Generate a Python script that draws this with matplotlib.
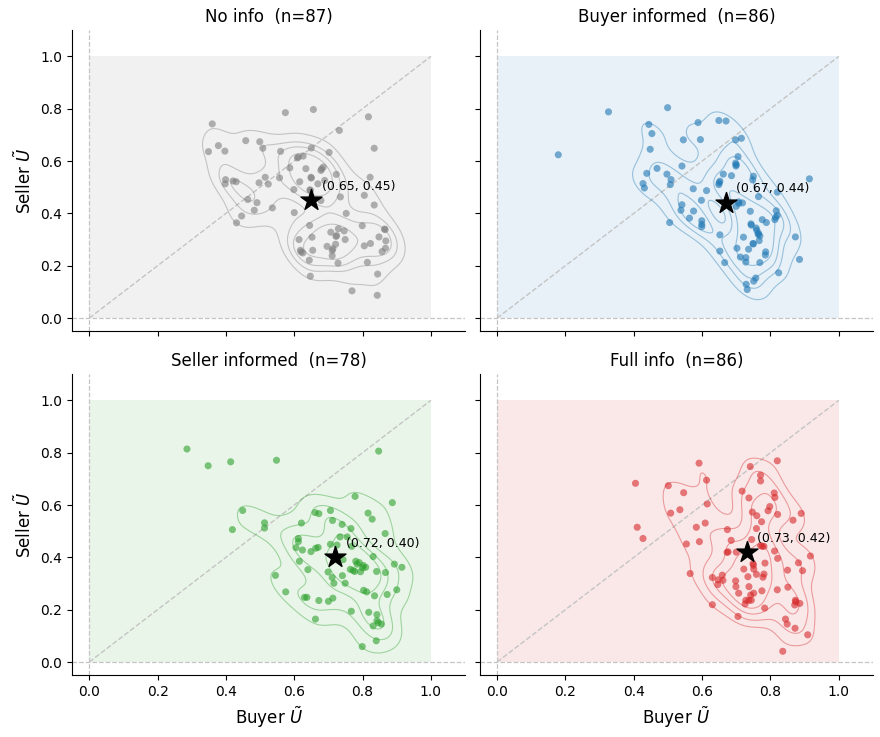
import numpy as np
import matplotlib
matplotlib.use("Agg")
import matplotlib.pyplot as plt
import seaborn as sns

sns.set_style("ticks")
plt.rcParams['font.family'] = ['DejaVu Sans']
plt.rcParams['text.color'] = 'black'
plt.rcParams['axes.labelcolor'] = 'black'
plt.rcParams['xtick.color'] = 'black'
plt.rcParams['ytick.color'] = 'black'
plt.rcParams['axes.edgecolor'] = 'black'

titles = ["No info", "Buyer informed", "Seller informed", "Full info"]
colors = ["#7f7f7f", "#1f77b4", "#2ca02c", "#d62728"]

# No info
noinfo_x = [0.574, 0.656, 0.817, 0.732, 0.360, 0.834, 0.458, 0.499, 0.378, 0.349,
            0.397, 0.508, 0.560, 0.650, 0.702, 0.609, 0.626, 0.587, 0.634, 0.678,
            0.685, 0.723, 0.399, 0.398, 0.421, 0.430, 0.515, 0.497, 0.524, 0.557,
            0.616, 0.649, 0.669, 0.689, 0.822, 0.599, 0.647, 0.735, 0.805, 0.678,
            0.464, 0.491, 0.483, 0.536, 0.446, 0.431, 0.600, 0.752, 0.834, 0.645,
            0.799, 0.864, 0.729, 0.707, 0.724, 0.746, 0.652, 0.614, 0.749, 0.696,
            0.721, 0.711, 0.618, 0.625, 0.654, 0.711, 0.805, 0.823, 0.848, 0.868,
            0.867, 0.857, 0.644, 0.728, 0.814, 0.844, 0.647, 0.769, 0.843,
            0.680, 0.722, 0.620, 0.650, 0.713, 0.612, 0.866, 0.646]
noinfo_y = [0.785, 0.797, 0.769, 0.717, 0.742, 0.649, 0.678, 0.674, 0.659, 0.636,
            0.638, 0.649, 0.637, 0.650, 0.633, 0.612, 0.619, 0.574, 0.571, 0.564,
            0.577, 0.549, 0.529, 0.513, 0.524, 0.521, 0.538, 0.517, 0.512, 0.536,
            0.521, 0.538, 0.513, 0.526, 0.538, 0.491, 0.488, 0.463, 0.469, 0.449,
            0.453, 0.441, 0.412, 0.421, 0.390, 0.364, 0.403, 0.400, 0.432, 0.354,
            0.353, 0.340, 0.341, 0.328, 0.315, 0.333, 0.309, 0.300, 0.300, 0.274,
            0.282, 0.258, 0.259, 0.249, 0.259, 0.238, 0.276, 0.285, 0.310, 0.295,
            0.267, 0.254, 0.221, 0.210, 0.213, 0.168, 0.160, 0.104, 0.087,
            0.570, 0.312, 0.253, 0.535, 0.265, 0.615, 0.338, 0.490]

# Buyer informed
buyer_x = [0.326, 0.499, 0.179, 0.444, 0.453, 0.448, 0.588, 0.649, 0.670, 0.545,
           0.595, 0.698, 0.715, 0.705, 0.698, 0.699, 0.541, 0.468, 0.438, 0.497,
           0.509, 0.507, 0.427, 0.431, 0.662, 0.686, 0.652, 0.649, 0.750, 0.748,
           0.914, 0.574, 0.613, 0.598, 0.765, 0.820, 0.707, 0.718, 0.700, 0.541,
           0.538, 0.575, 0.563, 0.599, 0.599, 0.505, 0.741, 0.817, 0.820, 0.813,
           0.776, 0.788, 0.743, 0.758, 0.765, 0.769, 0.721, 0.749, 0.767, 0.652,
           0.702, 0.736, 0.786, 0.785, 0.873, 0.652, 0.712, 0.728, 0.728, 0.769,
           0.666, 0.885, 0.824, 0.757, 0.751, 0.729, 0.732,
           0.700, 0.744, 0.764, 0.750, 0.815, 0.599, 0.707, 0.650, 0.760]
buyer_y = [0.788, 0.804, 0.624, 0.740, 0.705, 0.645, 0.747, 0.755, 0.753, 0.681,
           0.682, 0.681, 0.687, 0.617, 0.592, 0.581, 0.581, 0.572, 0.553, 0.550,
           0.529, 0.510, 0.514, 0.497, 0.550, 0.544, 0.523, 0.510, 0.542, 0.528,
           0.532, 0.494, 0.487, 0.450, 0.464, 0.481, 0.444, 0.440, 0.427, 0.433,
           0.412, 0.409, 0.382, 0.372, 0.349, 0.365, 0.408, 0.410, 0.392, 0.376,
           0.376, 0.365, 0.360, 0.344, 0.324, 0.314, 0.309, 0.285, 0.296, 0.318,
           0.267, 0.263, 0.253, 0.241, 0.310, 0.256, 0.233, 0.231, 0.214, 0.212,
           0.212, 0.224, 0.173, 0.153, 0.141, 0.129, 0.109,
           0.586, 0.355, 0.320, 0.283, 0.385, 0.358, 0.438, 0.517, 0.335]

# Seller informed
seller_x = [0.286, 0.348, 0.414, 0.548, 0.847, 0.449, 0.419, 0.513, 0.513, 0.778,
            0.887, 0.661, 0.672, 0.706, 0.712, 0.816, 0.828, 0.621, 0.740, 0.766,
            0.866, 0.612, 0.734, 0.755, 0.605, 0.624, 0.649, 0.663, 0.670, 0.725,
            0.768, 0.615, 0.743, 0.780, 0.784, 0.802, 0.809, 0.831, 0.893, 0.915,
            0.640, 0.699, 0.764, 0.777, 0.794, 0.841, 0.867, 0.711, 0.716, 0.749,
            0.545, 0.803, 0.812, 0.900, 0.872, 0.835, 0.575, 0.630, 0.637, 0.672,
            0.700, 0.713, 0.767, 0.818, 0.842, 0.842, 0.831, 0.855, 0.662, 0.840,
            0.799,
            0.790, 0.772, 0.706, 0.741, 0.846, 0.612, 0.800]
seller_y = [0.814, 0.750, 0.765, 0.771, 0.806, 0.579, 0.506, 0.532, 0.512, 0.633,
            0.609, 0.571, 0.567, 0.579, 0.541, 0.569, 0.546, 0.531, 0.526, 0.510,
            0.491, 0.472, 0.478, 0.478, 0.437, 0.428, 0.422, 0.435, 0.438, 0.447,
            0.442, 0.385, 0.391, 0.385, 0.374, 0.369, 0.362, 0.403, 0.374, 0.362,
            0.353, 0.344, 0.354, 0.346, 0.345, 0.346, 0.342, 0.323, 0.301, 0.301,
            0.331, 0.274, 0.268, 0.276, 0.258, 0.253, 0.268, 0.247, 0.247, 0.235,
            0.232, 0.244, 0.194, 0.190, 0.181, 0.158, 0.138, 0.145, 0.164, 0.081,
            0.059,
            0.380, 0.350, 0.450, 0.330, 0.150, 0.460, 0.360]

# Full info
full_x = [0.591, 0.820, 0.405, 0.613, 0.741, 0.771, 0.771, 0.501, 0.546, 0.717,
          0.737, 0.811, 0.813, 0.615, 0.535, 0.508, 0.798, 0.793, 0.747, 0.760,
          0.821, 0.890, 0.866, 0.774, 0.609, 0.410, 0.427, 0.583, 0.674, 0.759,
          0.685, 0.554, 0.592, 0.745, 0.776, 0.781, 0.673, 0.676, 0.812, 0.821,
          0.917, 0.882, 0.894, 0.850, 0.722, 0.751, 0.784, 0.749, 0.565, 0.630,
          0.659, 0.647, 0.661, 0.646, 0.734, 0.759, 0.778, 0.781, 0.699, 0.737,
          0.707, 0.751, 0.775, 0.820, 0.851, 0.728, 0.737, 0.726, 0.744, 0.630,
          0.783, 0.873, 0.886, 0.871, 0.705, 0.844, 0.849, 0.872, 0.909, 0.836,
          0.771, 0.700, 0.698, 0.742, 0.874, 0.750]
full_y = [0.760, 0.769, 0.683, 0.695, 0.747, 0.714, 0.692, 0.674, 0.647, 0.653,
          0.627, 0.646, 0.629, 0.604, 0.582, 0.569, 0.594, 0.578, 0.573, 0.559,
          0.564, 0.568, 0.542, 0.536, 0.531, 0.515, 0.472, 0.515, 0.506, 0.510,
          0.465, 0.451, 0.460, 0.468, 0.442, 0.442, 0.419, 0.421, 0.424, 0.396,
          0.405, 0.379, 0.349, 0.351, 0.355, 0.355, 0.378, 0.376, 0.338, 0.323,
          0.332, 0.314, 0.312, 0.296, 0.326, 0.335, 0.324, 0.336, 0.288, 0.288,
          0.263, 0.263, 0.272, 0.276, 0.286, 0.236, 0.236, 0.222, 0.236, 0.219,
          0.206, 0.236, 0.224, 0.218, 0.174, 0.164, 0.145, 0.129, 0.104, 0.041,
          0.445, 0.420, 0.310, 0.256, 0.230, 0.370]

mean_x = [0.65, 0.67, 0.72, 0.73]
mean_y = [0.45, 0.44, 0.40, 0.42]

xs = [noinfo_x, buyer_x, seller_x, full_x]
ys = [noinfo_y, buyer_y, seller_y, full_y]

fig, axes = plt.subplots(2, 2, figsize=(8.8, 7.37), sharex=True, sharey=True)
fig.subplots_adjust(left=0.082, right=0.992, top=0.959, bottom=0.084,
                    wspace=0.038, hspace=0.143)

for i, ax in enumerate(axes.flat):
    c = colors[i]
    x = np.array(xs[i])
    y = np.array(ys[i])
    ax.fill_between([0, 1], 0, 1, color=c, alpha=0.1, lw=0, zorder=0)
    ax.axhline(0, color="#c4c4c4", ls="--", lw=0.9, zorder=1)
    ax.axvline(0, color="#c4c4c4", ls="--", lw=0.9, zorder=1)
    ax.plot([0, 1], [0, 1], color="#c4c4c4", ls="--", lw=1.0, zorder=1)
    sns.kdeplot(x=x, y=y, ax=ax, levels=5, thresh=0.18, bw_adjust=0.7,
                color=c, linewidths=0.8, alpha=0.4, zorder=2)
    ax.scatter(x, y, s=26, color=c, alpha=0.6, edgecolors="none", zorder=3)
    ax.scatter([mean_x[i]], [mean_y[i]], marker="*", s=250, color="black", zorder=5)
    ax.text(mean_x[i] + 0.03, mean_y[i] + 0.04,
            f"({mean_x[i]:.2f}, {mean_y[i]:.2f})", fontsize=9, zorder=6)
    ax.set_title(f"{titles[i]}  (n={len(x)})", fontsize=12)
    ax.set_xlim(-0.05, 1.1)
    ax.set_ylim(-0.05, 1.1)
    ax.set_xticks([0, 0.2, 0.4, 0.6, 0.8, 1.0])
    ax.set_yticks([0, 0.2, 0.4, 0.6, 0.8, 1.0])
    ax.set_xlabel("")
    ax.set_ylabel("")
    ax.tick_params(labelsize=10)
    sns.despine(ax=ax)

for ax in axes[:, 0]:
    ax.set_ylabel(r"Seller $\tilde{U}$", fontsize=12)
for ax in axes[1, :]:
    ax.set_xlabel(r"Buyer $\tilde{U}$", fontsize=12)

fig.savefig("out.png", dpi=100)
